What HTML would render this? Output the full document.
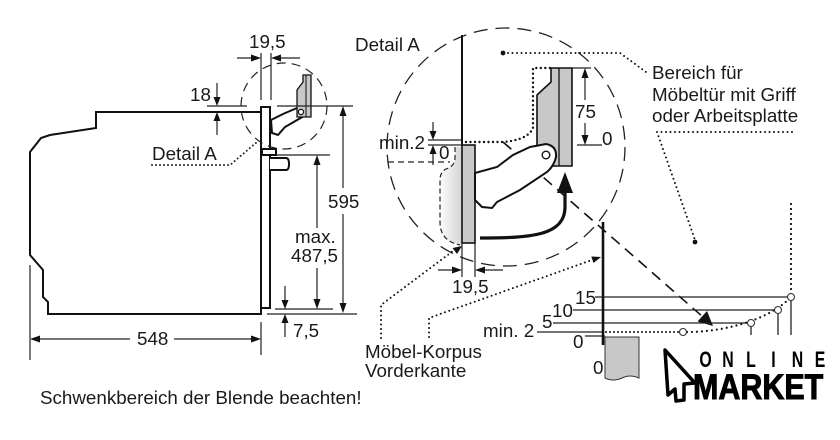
<!DOCTYPE html>
<html><head><meta charset="utf-8"><style>
html,body{margin:0;padding:0;background:#fff;width:840px;height:440px;overflow:hidden}
svg{display:block}
text{font-family:"Liberation Sans",Arial,sans-serif;font-size:18.8px;fill:#1a1a1a}
</style></head><body>
<svg width="840" height="440" viewBox="0 0 840 440" xmlns="http://www.w3.org/2000/svg">
<defs>
<linearGradient id="lg" x1="0" x2="1" y1="0" y2="0"><stop offset="0" stop-color="#fbfbfb"/><stop offset="1" stop-color="#d4d4d4"/></linearGradient>
</defs>
<rect width="840" height="440" fill="#fff"/>

<!-- ===== LEFT OVEN ===== -->
<g fill="none" stroke="#111" stroke-width="2" stroke-linejoin="miter">
<path d="M261,112 L96,112 L96,128 L50,135 L41,138 L30,152 L30,255 L43,270 L43,297 L48,302 L48,314 L261,314 L261,107 L270,107 L270,308 L261,308"/>
<rect x="262" y="149" width="14" height="6" fill="#fff"/>
<path d="M270,158 L286,158 Q289,158 289,164 Q289,170 286,170 L270,170" fill="#fff"/>
</g>
<path d="M271,120 L283,114 L297,108 L304,110 L304,116 L285,127 L278,135 L272,133 Z" fill="#fff" stroke="#111" stroke-width="2"/>
<path d="M303,75 L311,75 L311,117 L297,117 L297,90 L303,82 Z" fill="#c8c8c8" stroke="#111" stroke-width="1.3"/>
<line x1="306" y1="75" x2="306" y2="117" stroke="#111" stroke-width="1"/>
<circle cx="301" cy="112" r="2.6" fill="#fff" stroke="#111" stroke-width="1.2"/>
<circle cx="284" cy="106" r="43" fill="none" stroke="#222" stroke-width="1.2" stroke-dasharray="9 6"/>

<g stroke="#222" stroke-width="1.2" fill="none">
<line x1="261" y1="53" x2="261" y2="100"/><line x1="271" y1="53" x2="271" y2="100"/>
<line x1="237" y1="58" x2="255" y2="58"/><line x1="300" y1="58" x2="277" y2="58"/>
<line x1="207" y1="106" x2="247" y2="106"/><line x1="277" y1="106" x2="353" y2="106"/>
<line x1="217" y1="83" x2="217" y2="100"/><line x1="217" y1="135" x2="217" y2="118"/>
<line x1="343" y1="112" x2="343" y2="188"/><line x1="343" y1="214" x2="343" y2="307"/>
<line x1="277" y1="155" x2="330" y2="155"/>
<line x1="317" y1="161" x2="317" y2="228"/><line x1="317" y1="268" x2="317" y2="303"/>
<line x1="275" y1="309" x2="333" y2="309"/><line x1="267" y1="314" x2="357" y2="314"/>
<line x1="285" y1="286" x2="285" y2="303"/><line x1="285" y1="337" x2="285" y2="320"/>
<line x1="30" y1="265" x2="30" y2="360"/><line x1="261" y1="322" x2="261" y2="355"/>
<line x1="36" y1="339" x2="130" y2="339"/><line x1="174" y1="339" x2="255" y2="339"/>
</g>
<g fill="#111">
<polygon points="261,58 251,54.5 251,61.5"/><polygon points="271,58 281,54.5 281,61.5"/>
<polygon points="217,106 213.5,97 220.5,97"/><polygon points="217,112 213.5,121 220.5,121"/>
<polygon points="343,106 339.5,116 346.5,116"/><polygon points="343,313 339.5,303 346.5,303"/>
<polygon points="317,155 313.5,165 320.5,165"/><polygon points="317,309 313.5,299 320.5,299"/>
<polygon points="285,309 281.5,300 288.5,300"/><polygon points="285,314 281.5,323 288.5,323"/>
<polygon points="30,339 40,335.5 40,342.5"/><polygon points="261,339 251,335.5 251,342.5"/>
</g>
<path d="M152,165 L230,165 L257,142" fill="none" stroke="#222" stroke-width="2" stroke-dasharray="0 4" stroke-linecap="round"/>

<text x="249" y="48">19,5</text>
<text x="190" y="101">18</text>
<text x="152" y="160">Detail A</text>
<text x="328" y="208">595</text>
<text x="295" y="243">max.</text>
<text x="291" y="262">487,5</text>
<text x="293" y="337">7,5</text>
<text x="137" y="345">548</text>
<text x="40" y="404">Schwenkbereich der Blende beachten!</text>

<!-- ===== DETAIL A ===== -->
<circle cx="506" cy="147" r="119" fill="none" stroke="#222" stroke-width="1.3" stroke-dasharray="14 8"/>
<text x="355" y="51">Detail A</text>

<path d="M455,147 L455,158 Q455,166 446,169 Q440,172 440,180 L440,222 Q440,241 462,245 L462,147 Z" fill="url(#lg)" stroke="none"/>
<path d="M455,147 L455,158 Q455,166 446,169 Q440,172 440,180 L440,222 Q440,241 460,245" fill="none" stroke="#222" stroke-width="1.2" stroke-dasharray="5 3"/>
<line x1="388" y1="162" x2="450" y2="162" stroke="#222" stroke-width="1.2" stroke-dasharray="6 4"/>

<line x1="462" y1="35" x2="462" y2="146" stroke="#111" stroke-width="2"/>
<rect x="462" y="145" width="13" height="98" fill="#c8c8c8" stroke="#111" stroke-width="1.6"/>
<line x1="462" y1="243" x2="462" y2="277" stroke="#222" stroke-width="1.2"/>
<line x1="475" y1="243" x2="475" y2="277" stroke="#222" stroke-width="1.2"/>
<line x1="438" y1="270" x2="455" y2="270" stroke="#222" stroke-width="1.2"/>
<line x1="503" y1="270" x2="482" y2="270" stroke="#222" stroke-width="1.2"/>
<polygon points="462,270 452,266.5 452,273.5" fill="#111"/>
<polygon points="475,270 485,266.5 485,273.5" fill="#111"/>
<text x="452" y="293">19,5</text>

<g stroke="#222" stroke-width="1.2">
<line x1="428" y1="140" x2="462" y2="140"/><line x1="428" y1="145" x2="462" y2="145"/>
<line x1="433" y1="122" x2="433" y2="133"/><line x1="433" y1="165" x2="433" y2="153"/>
</g>
<polygon points="433,140 429.5,131 436.5,131" fill="#111"/>
<polygon points="433,145 429.5,154 436.5,154" fill="#111"/>
<text x="379" y="149">min.2</text>
<text x="439" y="159">0</text>

<path d="M551,68 L572,68 L572,166 L537,166 L537,95 L551,82 Z" fill="#c8c8c8" stroke="#111" stroke-width="1.6"/>
<line x1="559" y1="68" x2="559" y2="166" stroke="#111" stroke-width="1.3"/>

<path d="M466,142 L503,142 Q528,140 533,128 L533,68 L550,68" fill="none" stroke="#111" stroke-width="2.4" stroke-dasharray="0 4.5" stroke-linecap="round"/>

<line x1="503" y1="142" x2="703" y2="317" stroke="#111" stroke-width="1.6" stroke-dasharray="11 7"/>
<polygon points="713,326 697.5,321.5 707,311" fill="#111"/>

<path d="M475,173 L497,167 L513,155 L530,147 L546,144 Q557,146 556,157 Q554,166 547,172 L520,190 L497,202 L492,208 L482,207 L477,202 L475,200 Z" fill="#fff" stroke="#111" stroke-width="2"/>
<circle cx="546" cy="155" r="3.8" fill="#fff" stroke="#111" stroke-width="1.4"/>

<path d="M480,238 C530,238 565,236 565,207 L565,190" fill="none" stroke="#111" stroke-width="3.2"/>
<polygon points="565,172 557,193 573,193" fill="#111"/>

<g stroke="#222" stroke-width="1.2">
<line x1="572" y1="68" x2="591" y2="68"/><line x1="577" y1="145" x2="602" y2="145"/>
<line x1="585" y1="74" x2="585" y2="100"/><line x1="585" y1="123" x2="585" y2="139"/>
</g>
<polygon points="585,68 581.5,78 588.5,78" fill="#111"/>
<polygon points="585,145 581.5,135 588.5,135" fill="#111"/>
<text x="575" y="118">75</text>
<text x="602" y="145">0</text>

<circle cx="503" cy="53" r="2.4" fill="#111"/>
<path d="M508,53 L620,53 L646,72" fill="none" stroke="#111" stroke-width="2" stroke-dasharray="0 4.5" stroke-linecap="round"/>
<path d="M792,132 L657,132 L695,240" fill="none" stroke="#111" stroke-width="2" stroke-dasharray="0 4.5" stroke-linecap="round"/>
<circle cx="695" cy="242" r="2.4" fill="#111"/>
<text x="652" y="79">Bereich für</text>
<text x="652" y="101">Möbeltür mit Griff</text>
<text x="652" y="122">oder Arbeitsplatte</text>

<path d="M381,338 L381,305 L453,251" fill="none" stroke="#111" stroke-width="2" stroke-dasharray="0 4.5" stroke-linecap="round"/>
<polygon points="462,246 457,254 452.5,248" fill="#111"/>
<path d="M429,337 L429,318 L592,260" fill="none" stroke="#111" stroke-width="2" stroke-dasharray="0 4.5" stroke-linecap="round"/>
<polygon points="601,257 593.5,263 591.3,256.5" fill="#111"/>
<text x="365" y="358">Möbel-Korpus</text>
<text x="365" y="377">Vorderkante</text>

<!-- ===== RIGHT GRAPH ===== -->
<g stroke="#222" stroke-width="1.3">
<line x1="595" y1="297" x2="788" y2="297"/>
<line x1="573" y1="310" x2="775" y2="310"/>
<line x1="553" y1="323" x2="748" y2="323"/>
<line x1="537" y1="332" x2="603" y2="332"/>
<line x1="585" y1="336" x2="605" y2="336"/>
<line x1="791" y1="300" x2="791" y2="335"/>
<line x1="778" y1="313" x2="778" y2="335"/>
<line x1="751" y1="326" x2="751" y2="335"/>
</g>
<line x1="603" y1="222" x2="603" y2="345" stroke="#111" stroke-width="2.6"/>
<path d="M605,337 L639,337 L639,378 Q630,374 622,378 Q613,382 605,378 Z" fill="#c8c8c8" stroke="#333" stroke-width="1"/>
<path d="M606,332 L680,332" fill="none" stroke="#111" stroke-width="2" stroke-dasharray="0 4" stroke-linecap="round"/>
<path d="M687,332 C720,332 765,322 789,299" fill="none" stroke="#111" stroke-width="2.2" stroke-dasharray="0 5" stroke-linecap="round"/>
<path d="M791,294 L791,200" fill="none" stroke="#111" stroke-width="2.2" stroke-dasharray="0 5" stroke-linecap="round"/>
<g fill="#fff" stroke="#333" stroke-width="1.1">
<circle cx="683" cy="332" r="3.5"/><circle cx="751" cy="323" r="3.5"/>
<circle cx="778" cy="310" r="3.5"/><circle cx="791" cy="297" r="3.5"/>
</g>
<text x="575" y="304">15</text>
<text x="552" y="317">10</text>
<text x="542" y="328">5</text>
<text x="483" y="337">min. 2</text>
<text x="573" y="348">0</text>
<text x="593" y="374">0</text>

<!-- ===== LOGO ===== -->
<polygon points="665,350 695,383 684,384 684,400 676,401 675,389 668,395" fill="#fff" stroke="#000" stroke-width="3.5" stroke-linejoin="round"/>
<g>
<text transform="translate(705.5,367) scale(0.72,1)" text-anchor="middle" style="font-size:22px;font-weight:bold;fill:#000">O</text>
<text transform="translate(728,367) scale(0.72,1)" text-anchor="middle" style="font-size:22px;font-weight:bold;fill:#000">N</text>
<text transform="translate(751,367) scale(0.72,1)" text-anchor="middle" style="font-size:22px;font-weight:bold;fill:#000">L</text>
<text transform="translate(773.5,367) scale(0.72,1)" text-anchor="middle" style="font-size:22px;font-weight:bold;fill:#000">I</text>
<text transform="translate(797.5,367) scale(0.72,1)" text-anchor="middle" style="font-size:22px;font-weight:bold;fill:#000">N</text>
<text transform="translate(820,367) scale(0.72,1)" text-anchor="middle" style="font-size:22px;font-weight:bold;fill:#000">E</text>
<text transform="translate(693,399) scale(0.87,1)" style="font-size:35px;font-weight:bold;fill:#000" stroke="#000" stroke-width="1">MARKET</text>
</g>
</svg>
</body></html>
